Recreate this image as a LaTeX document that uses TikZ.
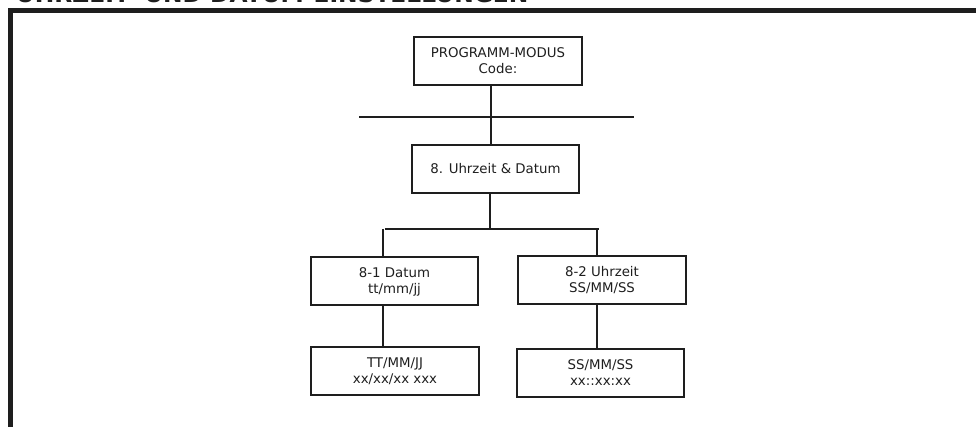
\documentclass[tikz,border=0pt]{standalone}
\usepackage{fontspec}
\setmainfont{DejaVu Sans}
\usepackage{tikz}
\definecolor{inkgray}{HTML}{1E1E1E}

\begin{document}
\begin{tikzpicture}[x=0.75pt,y=-0.75pt,line width=1.5pt,draw=inkgray,
  menu node/.style={draw,rectangle,inner sep=0pt,align=center,
    minimum width=125.5pt,minimum height=36pt,text=inkgray,
    font=\fontsize{10}{12}\selectfont}]

  \useasboundingbox (0,0) rectangle (976,427);
  \clip (0,0) rectangle (976,427);

  % frame and heading (cut off at the top)
  \node[anchor=base west,inner sep=0pt,text=inkgray,
    font=\bfseries\fontsize{17.5}{19}\selectfont] (title) at (15,3)
    {UHRZEIT- UND DATUM-EINSTELLUNGEN};
  \draw[line width=3.4pt] (10.3,440) -- (10.3,10.5) -- (990,10.5);

  \node[menu node] (prog) at (498,61) {PROGRAMM-MODUS\\Code:};
  \node[menu node] (menu8) at (495.5,169) {8. Uhrzeit \& Datum};
  \node[menu node] (datum) at (394.5,281.5) {8-1 Datum\\tt/mm/jj};
  \node[menu node] (zeit) at (602,280.5) {8-2 Uhrzeit\\SS/MM/SS};
  \node[menu node] (datumset) at (395,371.5) {TT/MM/JJ\\xx/xx/xx xxx};
  \node[menu node] (zeitset) at (600.5,373) {SS/MM/SS\\xx::xx:xx};

  \coordinate (bar1w) at (359,117);
  \coordinate (bar1e) at (634,117);
  \coordinate (tap1) at (491,117);
  \coordinate (tap2) at (490,229);
  \coordinate (bar2w) at (385,229);
  \coordinate (bar2e) at (599,229);
  \coordinate (dropl) at (383,229);
  \coordinate (dropr) at (597,229);

  \path[draw]
    (bar1w) edge (bar1e)
    (prog.south -| tap1) edge (menu8.north -| tap1)
    (menu8.south -| tap2) edge (tap2)
    (bar2w) edge (bar2e)
    (dropl) edge (datum.north -| dropl)
    (dropr) edge (zeit.north -| dropr)
    (datum.south -| dropl) edge (datumset.north -| dropl)
    (zeit.south -| dropr) edge (zeitset.north -| dropr);

\end{tikzpicture}
\end{document}
